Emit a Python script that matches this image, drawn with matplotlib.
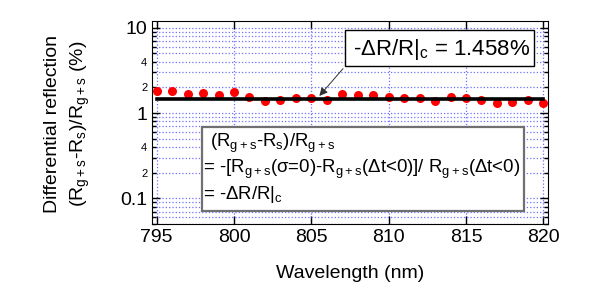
import numpy as np
import matplotlib
matplotlib.use('Agg')
import matplotlib.pyplot as plt
from matplotlib.patches import Rectangle
from matplotlib.ticker import FuncFormatter

plt.rcParams['font.family'] = ['Liberation Sans', 'DejaVu Sans']
plt.rcParams['mathtext.fontset'] = 'custom'
plt.rcParams['mathtext.rm'] = 'Liberation Sans'
plt.rcParams['mathtext.it'] = 'Liberation Sans:italic'
plt.rcParams['mathtext.default'] = 'regular'

# data
wavelength = np.arange(795, 821)
diff_refl = [1.83, 1.83, 1.69, 1.72, 1.64, 1.75, 1.56, 1.40, 1.43, 1.51,
             1.51, 1.41, 1.69, 1.61, 1.61, 1.56, 1.50, 1.50, 1.40, 1.56,
             1.51, 1.41, 1.31, 1.35, 1.41, 1.31]
avg_value = 1.458
xticks = [795, 800, 805, 810, 815, 820]

fig = plt.figure(figsize=(5.95, 3.05), dpi=100)
ax = fig.add_axes([0.2555, 0.2656, 0.6655, 0.6654])

ax.plot(wavelength, diff_refl, 'o', color='red', ms=6.5, mec='none', zorder=3)
ax.plot([wavelength[0], wavelength[-1]], [avg_value, avg_value], color='black', lw=2.6, zorder=4)

ax.set_yscale('log')
ax.set_xlim(794.7, 820.3)
ax.set_ylim(0.05, 12)
ax.set_xticks(xticks)

def minor_fmt(v, pos):
    m = v / 10 ** np.floor(np.log10(v) + 1e-9)
    if round(m) in (2, 4):
        return '%d' % round(m)
    return ''

ax.yaxis.set_major_formatter(FuncFormatter(lambda v, p: '%g' % v))
ax.yaxis.set_minor_formatter(FuncFormatter(minor_fmt))
ax.tick_params(axis='both', which='major', direction='in', length=6, width=1,
               top=True, right=True, labelsize=14)
ax.tick_params(axis='y', which='minor', direction='in', length=3, width=1,
               right=True, labelsize=8)
ax.tick_params(axis='x', which='minor', bottom=False, top=False)

ax.grid(True, which='both', axis='y', color='#7070ff', linestyle=':', lw=0.9)
ax.grid(True, which='major', axis='x', color='#7070ff', linestyle=':', lw=0.9)

ax.set_xlabel('Wavelength (nm)', fontsize=14, labelpad=14)
fig.text(68 / 595, 1 - 124 / 305,
         'Differential reflection\n(R$_{g+s}$-R$_s$)/R$_{g+s}$ (%)',
         rotation=90, ha='center', va='center', fontsize=14, linespacing=1.45)

# box with the average value
ax.add_patch(Rectangle((0.487, 0.778), 0.478, 0.178, transform=ax.transAxes,
                       facecolor='white', edgecolor='black', lw=1, zorder=5))
ax.text(0.507, 0.862, '-$\\Delta$R/R|$_c$ = 1.458%', transform=ax.transAxes,
        fontsize=16, ha='left', va='center', zorder=6)
ax.annotate('', xy=(805.4, 1.5), xytext=(0.487, 0.776),
            textcoords='axes fraction',
            arrowprops=dict(arrowstyle='-|>', color='#303030', lw=0.7,
                            mutation_scale=12), zorder=6)

# box with the definition
ax.add_patch(Rectangle((0.1255, 0.064), 0.8145, 0.415, transform=ax.transAxes,
                       facecolor='white', edgecolor='#707070', lw=1.6, zorder=5))
ax.text(0.146, 0.399, '(R$_{g+s}$-R$_s$)/R$_{g+s}$', transform=ax.transAxes,
        fontsize=13.4, ha='left', va='center', zorder=6)
ax.text(0.129, 0.271,
        '= -[R$_{g+s}$($\\sigma$=0)-R$_{g+s}$($\\Delta$t<0)]/ R$_{g+s}$($\\Delta$t<0)',
        transform=ax.transAxes, fontsize=13.4, ha='left', va='center', zorder=6)
ax.text(0.129, 0.143, '= -$\\Delta$R/R|$_c$', transform=ax.transAxes,
        fontsize=13.4, ha='left', va='center', zorder=6)

fig.savefig('out.png', dpi=100)
